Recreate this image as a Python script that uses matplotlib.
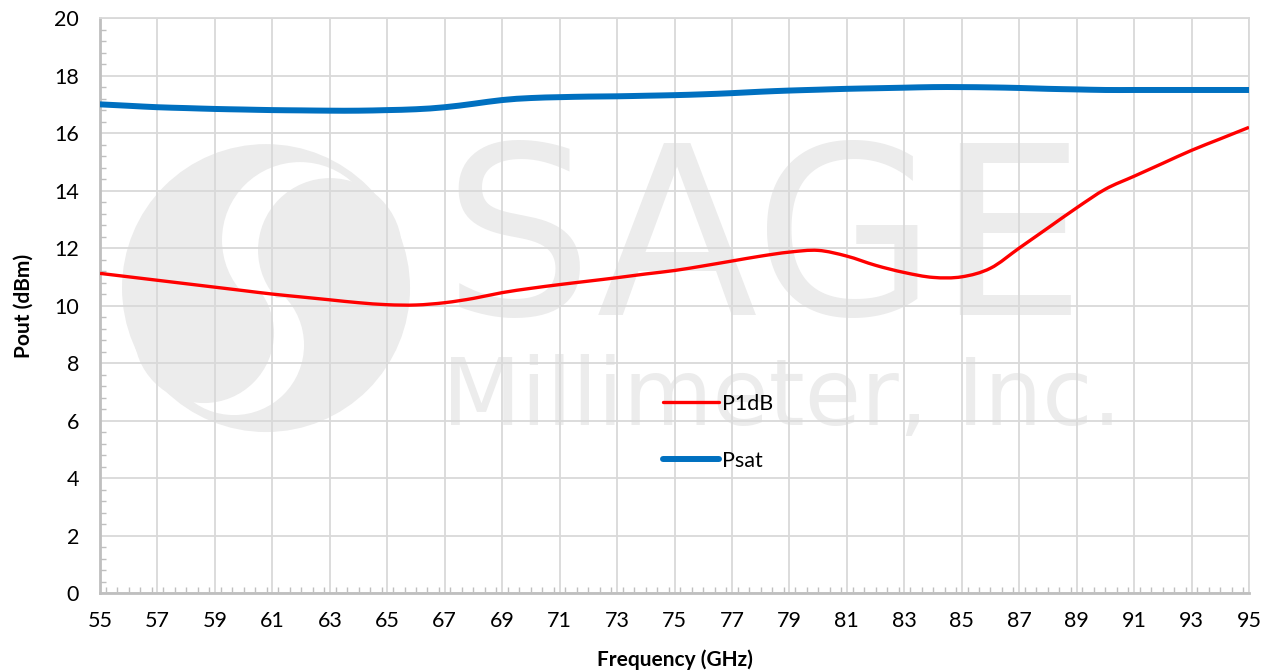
import numpy as np
import matplotlib
matplotlib.use('Agg')
import matplotlib.pyplot as plt
from matplotlib.patches import Ellipse, Rectangle, PathPatch
from matplotlib.path import Path
from matplotlib.lines import Line2D
from matplotlib.ticker import MultipleLocator

plt.rcParams['font.family'] = ['Lato', 'DejaVu Sans']

# ── data ───────────────────────────────────────────────────────
freq = list(range(55, 96))
p1db = [11.12, 11.00, 10.88, 10.76, 10.64, 10.52, 10.40, 10.30, 10.20, 10.10,
        10.03, 10.02, 10.10, 10.25, 10.45, 10.60, 10.73, 10.85, 10.97, 11.10,
        11.22, 11.38, 11.55, 11.72, 11.86, 11.92, 11.72, 11.40, 11.15, 10.98,
        11.00, 11.30, 12.00, 12.70, 13.40, 14.05, 14.50, 14.95, 15.40, 15.80,
        16.20]
psat = [17.00, 16.95, 16.90, 16.87, 16.84, 16.82, 16.80, 16.79, 16.78, 16.78,
        16.80, 16.83, 16.90, 17.02, 17.15, 17.22, 17.25, 17.27, 17.28, 17.30,
        17.32, 17.35, 17.39, 17.44, 17.48, 17.51, 17.54, 17.56, 17.58, 17.60,
        17.60, 17.59, 17.57, 17.54, 17.52, 17.50, 17.50, 17.50, 17.50, 17.50,
        17.50]
xticks = list(range(55, 96, 2))
yticks = list(range(0, 21, 2))


def smooth_path(x, y):
    """Catmull-Rom -> bezier, like Excel's smoothed line"""
    p = np.column_stack([x, y]).astype(float)
    p = np.vstack([p[0], p, p[-1]])
    verts = [p[1]]
    codes = [Path.MOVETO]
    for i in range(1, len(p) - 2):
        c1 = p[i] + (p[i + 1] - p[i - 1]) / 6
        c2 = p[i + 1] - (p[i + 2] - p[i]) / 6
        verts += [c1, c2, p[i + 1]]
        codes += [Path.CURVE4] * 3
    return Path(verts, codes)


fig = plt.figure(figsize=(12.71, 6.71), dpi=100)
ax = fig.add_axes([0.0787, 0.1162, 0.9040, 0.8568])
ax.set_xlim(55, 95)
ax.set_ylim(0, 20)

# ── watermark (pixel -> data helpers) ──────────────────────────
def px2x(px):
    return 55 + (px - 100) / 28.725

def px2y(py):
    return (593 - py) / 28.75

wm = '#ececec'

def disc(cx, cy, r, color, clip=None, z=0.0):
    e = Ellipse((px2x(cx), px2y(cy)), 2 * r / 28.725, 2 * r / 28.75,
                facecolor=color, edgecolor='none', zorder=z)
    ax.add_patch(e)
    if clip is not None:
        e.set_clip_path(clip)
    return e

disc(266, 288, 144, wm)
top_clip = Rectangle((px2x(100), px2y(298)), 15, 10, transform=ax.transData)
bot_clip = Rectangle((px2x(100), px2y(600)), 15, px2y(292) - px2y(600),
                     transform=ax.transData)
disc(300, 240, 78, 'white', top_clip, 0.05)
disc(330, 250, 72, wm, top_clip, 0.06)
disc(234, 345, 70, 'white', bot_clip, 0.05)
disc(204, 333, 70, wm, bot_clip, 0.06)

ax.text(px2x(442), px2y(250), 'SAGE', fontsize=170, color=wm,
        family=['DejaVu Sans'], ha='left', va='center', zorder=0.2)
ax.text(px2x(442), px2y(399), 'Millimeter, Inc.', fontsize=66, color=wm,
        family=['DejaVu Sans'], ha='left', va='center', zorder=0.2)

# ── grid / ticks ───────────────────────────────────────────────
ax.set_xticks(xticks)
ax.set_yticks(yticks)
ax.xaxis.set_minor_locator(MultipleLocator(0.4))
ax.yaxis.set_minor_locator(MultipleLocator(0.4))
ax.grid(True, which='major', color='#d9d9d9', lw=1.3, zorder=0.5)
ax.set_axisbelow(True)
ax.tick_params(which='major', length=0, labelsize=15.5)
ax.tick_params(axis='x', which='major', pad=13)
ax.tick_params(axis='y', which='major', pad=15)
ax.tick_params(which='minor', direction='in', length=4, width=1,
               color='#bfbfbf')
for s in ax.spines.values():
    s.set_color('#d9d9d9')
    s.set_linewidth(1.3)
ax.spines['left'].set_color('#bfbfbf')
ax.spines['bottom'].set_color('#bfbfbf')
ax.spines['left'].set_linewidth(2)
ax.spines['bottom'].set_linewidth(2)

# ── series ─────────────────────────────────────────────────────
ax.add_patch(PathPatch(smooth_path(freq, p1db), fill=False,
                       edgecolor='#FF0000', lw=2.4, zorder=3))
ax.add_patch(PathPatch(smooth_path(freq, psat), fill=False,
                       edgecolor='#0070C0', lw=4.3, zorder=3,
                       capstyle='round'))

ax.set_xlabel('Frequency (GHz)', fontsize=15, fontweight='bold', labelpad=13)
ax.set_ylabel('Pout (dBm)', fontsize=15, fontweight='bold', labelpad=15)

handles = [Line2D([], [], color='#FF0000', lw=2.4, solid_capstyle='round'),
           Line2D([], [], color='#0070C0', lw=4.3, solid_capstyle='round')]
ax.legend(handles, ['P1dB', 'Psat'], loc='upper left',
          bbox_to_anchor=(0.473, 0.38), frameon=False, fontsize=15.5,
          labelspacing=1.7, handlelength=2.6, handletextpad=0.15)

fig.savefig('out.png', dpi=100)
